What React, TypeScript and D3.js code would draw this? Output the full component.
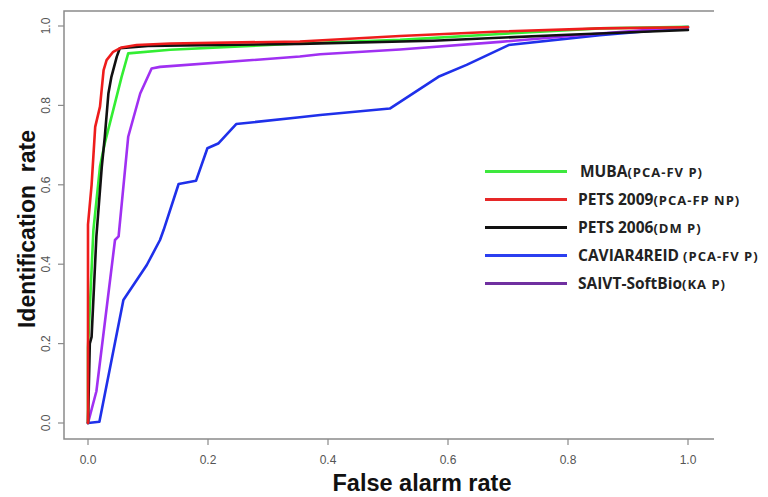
import React from 'react';
import * as d3 from 'd3';

const width = 768;
const height = 497;

// plot frame (pixels) and the value -> pixel mapping
const frame = { left: 64, right: 714, top: 11, bottom: 439 };
const xRange: [number, number] = [88, 688];
const yRange: [number, number] = [423, 26];

const xTicks = [0, 0.2, 0.4, 0.6, 0.8, 1.0];
const yTicks = [0, 0.2, 0.4, 0.6, 0.8, 1.0];

type Pt = [number, number];

// [false alarm rate, identification rate]
const muba: Pt[] = [
  [0, 0], [0, 0.19], [0.009, 0.486], [0.02, 0.646], [0.028, 0.705], [0.042, 0.788],
  [0.056, 0.872], [0.067, 0.931], [0.137, 0.94], [0.353, 0.956], [0.52, 0.965],
  [0.687, 0.98], [0.853, 0.994], [1.0, 0.998],
];
const pets2009: Pt[] = [
  [0, 0], [0, 0.26], [0, 0.5], [0.006, 0.6], [0.012, 0.746], [0.02, 0.797],
  [0.026, 0.889], [0.031, 0.914], [0.042, 0.935], [0.056, 0.946], [0.081, 0.952],
  [0.137, 0.956], [0.353, 0.961], [0.52, 0.975], [0.687, 0.986], [0.853, 0.994], [1.0, 0.997],
];
const pets2006: Pt[] = [
  [0, 0], [0.003, 0.2], [0.006, 0.217], [0.014, 0.47], [0.023, 0.646], [0.028, 0.721],
  [0.034, 0.83], [0.039, 0.872], [0.048, 0.923], [0.053, 0.944], [0.1, 0.95],
  [0.353, 0.955], [0.575, 0.963], [0.8, 0.978], [1.0, 0.99],
];
const caviar: Pt[] = [
  [0, 0], [0.019, 0.003], [0.059, 0.31], [0.098, 0.398], [0.12, 0.461], [0.126, 0.486],
  [0.151, 0.602], [0.18, 0.61], [0.199, 0.692], [0.217, 0.704], [0.247, 0.753],
  [0.353, 0.77], [0.387, 0.776], [0.503, 0.792], [0.584, 0.872], [0.631, 0.902],
  [0.701, 0.952], [0.853, 0.977], [1.0, 0.996],
];
const saivt: Pt[] = [
  [0, 0], [0.014, 0.08], [0.045, 0.461], [0.051, 0.47], [0.067, 0.721], [0.087, 0.83],
  [0.106, 0.893], [0.12, 0.897], [0.353, 0.923], [0.387, 0.929], [0.52, 0.941],
  [0.687, 0.96], [0.853, 0.981], [1.0, 0.998],
];

const legendNames = ['MUBA', 'PETS 2009', 'PETS 2006', 'CAVIAR4REID ', 'SAIVT-SoftBio'];
const legendMethods = ['(PCA-FV P)', '(PCA-FP NP)', '(DM P)', '(PCA-FV P)', '(KA P)'];
const legendColors = ['#3ee83e', '#e62828', '#111111', '#2b3ff0', '#7030a0'];

// draw order: bottom first
const series = [
  { key: 'caviar', data: caviar, color: '#1f30ea' },
  { key: 'saivt', data: saivt, color: '#a030f2' },
  { key: 'muba', data: muba, color: '#33ee33' },
  { key: 'pets2006', data: pets2006, color: '#111111' },
  { key: 'pets2009', data: pets2009, color: '#ee1c1c' },
];

const App = () => {
  const x = d3.scaleLinear().domain([0, 1]).range(xRange);
  const y = d3.scaleLinear().domain([0, 1]).range(yRange);
  const fmt = d3.format('.1f');
  const line = d3.line<Pt>().x(d => x(d[0])).y(d => y(d[1]));

  const axisColor = '#8a8a8a';
  const tickFont = '"Liberation Sans Narrow", "Liberation Sans", Arial, sans-serif';

  return (
    <svg width={width} height={height}
      style={{ position: 'absolute', left: 0, top: 0, display: 'block', background: '#fff' }}>
      {/* frame: top, left, bottom */}
      <path d={`M${frame.right},${frame.top}H${frame.left}V${frame.bottom}H${frame.right}`}
        fill="none" stroke={axisColor} strokeWidth={1.5} />

      {yTicks.map(t => (
        <g key={'y' + t}>
          <line x1={frame.left - 6} x2={frame.left} y1={y(t)} y2={y(t)} stroke={axisColor} strokeWidth={1.2} />
          <text transform={`translate(${frame.left - 14},${y(t)}) rotate(-90)`} textAnchor="middle"
            fontFamily={tickFont} fontSize={12} fill="#555">{fmt(t)}</text>
        </g>
      ))}
      {xTicks.map(t => (
        <g key={'x' + t}>
          <line x1={x(t)} x2={x(t)} y1={frame.bottom} y2={frame.bottom + 6} stroke={axisColor} strokeWidth={1.2} />
          <text x={x(t)} y={frame.bottom + 25} textAnchor="middle"
            fontFamily={tickFont} fontSize={12} fill="#555">{fmt(t)}</text>
        </g>
      ))}

      {series.map(s => (
        <path key={s.key} d={line(s.data) || ''} fill="none" stroke={s.color}
          strokeWidth={2.6} strokeLinejoin="round" strokeLinecap="round" />
      ))}

      {legendNames.map((name, i) => {
        const ly = 171.5 + i * 28;
        return (
          <g key={name}>
            <line x1={485} x2={567} y1={ly} y2={ly} stroke={legendColors[i]} strokeWidth={3} />
            <text x={i === 0 ? 580 : 578} y={ly + 5.5} fontFamily='"Open Sans", sans-serif'
              fontWeight="bold" fill="#222" style={{ whiteSpace: 'pre' }}>
              <tspan fontSize={15.5}>{name}</tspan>
              <tspan fontSize={13} letterSpacing={1}>{legendMethods[i]}</tspan>
            </text>
          </g>
        );
      })}

      <text x={422} y={491} textAnchor="middle" fontFamily='"Liberation Sans", Arial, sans-serif'
        fontWeight="bold" fontSize={23.5} fill="#111">False alarm rate</text>
      <text transform="translate(35,229) rotate(-90)" textAnchor="middle"
        fontFamily='"Liberation Sans", Arial, sans-serif' fontWeight="bold" fontSize={23}
        fill="#111" style={{ whiteSpace: 'pre' }}>Identification  rate</text>
    </svg>
  );
};

export default App;
